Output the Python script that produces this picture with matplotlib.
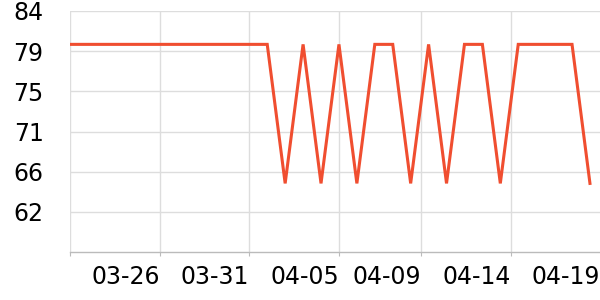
import matplotlib
matplotlib.use("Agg")
from matplotlib import pyplot as plt

# daily readings 03-21 .. 04-19
dates = ["03-21", "03-22", "03-23", "03-24", "03-25", "03-26", "03-27", "03-28",
         "03-29", "03-30", "03-31", "04-01", "04-02", "04-03", "04-04", "04-05",
         "04-06", "04-07", "04-08", "04-09", "04-10", "04-11", "04-12", "04-13",
         "04-14", "04-15", "04-16", "04-17", "04-18", "04-19"]
values = [80.4, 80.4, 80.4, 80.4, 80.4, 80.4, 80.4, 80.4, 80.4, 80.4, 80.4, 80.4,
          65.4, 80.4, 65.4, 80.4, 65.4, 80.4, 80.4, 65.4, 80.4, 65.4, 80.4, 80.4,
          65.4, 80.4, 80.4, 80.4, 80.4, 65.4]

x_ticks = [0, 5, 10, 15, 19.6, 24.6, 29.56]
x_labels = ["", "03-26", "03-31", "04-05", "04-09", "04-14", "04-19"]
y_ticks = [84 - k * 13 / 3 for k in range(6)]
y_labels = ["84", "79", "75", "71", "66", "62"]

fig = plt.figure(figsize=(6, 3), dpi=100)
ax = fig.add_axes([70 / 600, 48 / 300, 530 / 600, 241 / 300])

ax.plot(range(len(values)), values, color="#f04e30", linewidth=2.2,
        solid_joinstyle="miter", zorder=3)

ax.set_xlim(0, 29.56)
ax.set_ylim(58, 84)
ax.set_xticks(x_ticks)
ax.set_xticklabels(x_labels, ha="right")
ax.set_yticks(y_ticks)
ax.set_yticklabels(y_labels)

ax.grid(True, color="#dddddd", linewidth=1)
ax.set_axisbelow(True)
for s in ["top", "right", "left"]:
    ax.spines[s].set_visible(False)
ax.spines["bottom"].set_color("#bbbbbb")
ax.spines["bottom"].set_linewidth(1)

ax.tick_params(axis="x", length=3, color="#bbbbbb", pad=6, labelsize=17)
ax.tick_params(axis="y", length=0, pad=19, labelsize=17)

# no vertical line at the right edge in the original
ax.get_xgridlines()[-1].set_visible(False)
ax.xaxis.get_major_ticks()[-1].tick1line.set_visible(False)

fig.savefig("out.png", dpi=100)
